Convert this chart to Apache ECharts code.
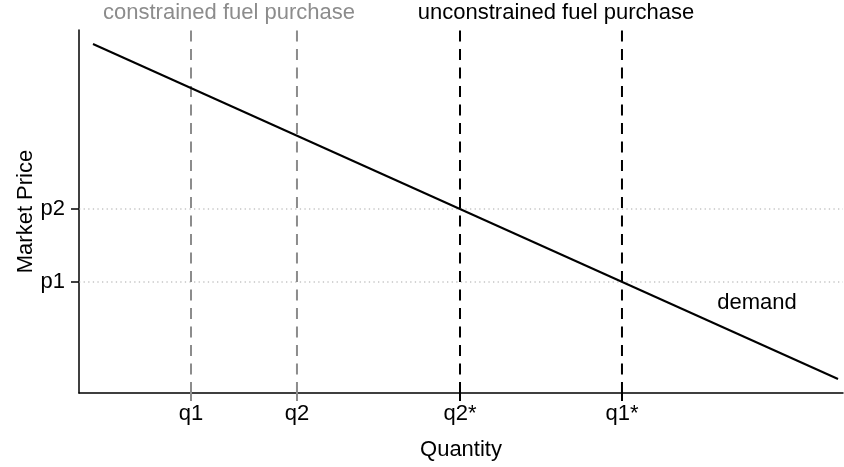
<!DOCTYPE html>
<html>
<head>
<meta charset="utf-8">
<script src="https://cdn.jsdelivr.net/npm/echarts@6/dist/echarts.min.js"></script>
<style>html,body{margin:0;padding:0;background:#fff}#c{width:844px;height:467px}</style>
</head>
<body>
<div id="c"></div>
<script>
// Data (abstract units 0..100)
const qNames = ['q1', 'q2', 'q2*', 'q1*'];
const qValues = [14.66, 28.53, 49.87, 71.07];
const qColors = ['#8c8c8c', '#8c8c8c', '#000000', '#000000'];
const pNames = ['p1', 'p2'];
const pValues = [30.58, 50.69];
const demandX = [1.83, 99.35];
const demandY = [96.14, 3.86];
const xMin = 0, xMax = 100, yMin = 0, yMax = 100;

// layout
const G = {left: 79, right: 1, top: 30, bottom: 74};
const tickLen = 8;
const plotW = 844 - G.left - G.right, plotH = 467 - G.top - G.bottom;
// extended ranges for helper grids that reach tickLen beyond the axes
const yTickMin = yMin - tickLen / plotH * (yMax - yMin);
const xTickMin = xMin - tickLen / plotW * (xMax - xMin);

const font = 'Liberation Sans, Arial, Helvetica, sans-serif';
const chart = echarts.init(document.getElementById('c'), null, {renderer: 'canvas'});

const series = [];
// dotted horizontal reference lines
pValues.forEach(function (p) {
  series.push({
    type: 'line', silent: true, symbol: 'none', animation: false,
    data: [[xMin, p], [xMax, p]],
    lineStyle: {color: '#a8a8a8', width: 1.2, type: [1.3, 3.3]}
  });
});
// vertical dashed lines
qValues.forEach(function (q, i) {
  series.push({
    type: 'line', silent: true, symbol: 'none', animation: false,
    data: [[q, yMin], [q, yMax]],
    lineStyle: {color: qColors[i], width: 2, type: [11, 7.5]}
  });
  // tick below x axis (helper grid 1)
  series.push({
    type: 'line', silent: true, symbol: 'none', animation: false,
    xAxisIndex: 1, yAxisIndex: 1,
    data: [[q, yTickMin], [q, yMin]],
    lineStyle: {color: qColors[i], width: 2}
  });
});
// ticks left of y axis (helper grid 2)
pValues.forEach(function (p) {
  series.push({
    type: 'line', silent: true, symbol: 'none', animation: false,
    xAxisIndex: 2, yAxisIndex: 2,
    data: [[xTickMin, p], [xMin, p]],
    lineStyle: {color: '#000', width: 1.5}
  });
});
// demand line
series.push({
  type: 'line', silent: true, symbol: 'none', animation: false,
  data: demandX.map(function (x, i) { return [x, demandY[i]]; }),
  lineStyle: {color: '#000', width: 2}
});

const hiddenAxis = function (min, max, grid) {
  return {type: 'value', gridIndex: grid, min: min, max: max, show: false};
};

chart.setOption({
  animation: false,
  backgroundColor: '#fff',
  grid: [
    {left: G.left, right: G.right, top: G.top, bottom: G.bottom},
    {left: G.left, right: G.right, top: G.top, bottom: G.bottom - tickLen},
    {left: G.left - tickLen, right: G.right, top: G.top, bottom: G.bottom}
  ],
  xAxis: [{
    type: 'value', min: xMin, max: xMax, gridIndex: 0,
    name: 'Quantity', nameLocation: 'middle', nameGap: 46, nameMoveOverlap: false,
    nameTextStyle: {fontFamily: font, fontSize: 22, color: '#000'},
    axisLine: {show: true, lineStyle: {color: '#000', width: 1.5}},
    axisTick: {show: false},
    splitLine: {show: false},
    axisLabel: {
      customValues: qValues, margin: 10,
      fontFamily: font, fontSize: 22, color: '#000',
      formatter: function (v) { const i = qValues.indexOf(v); return i >= 0 ? qNames[i] : ''; }
    }
  }, hiddenAxis(xMin, xMax, 1), hiddenAxis(xTickMin, xMax, 2)],
  yAxis: [{
    type: 'value', min: yMin, max: yMax, gridIndex: 0,
    name: 'Market Price', nameLocation: 'middle', nameGap: 42, nameRotate: 90, nameMoveOverlap: false,
    nameTextStyle: {fontFamily: font, fontSize: 22, color: '#000'},
    axisLine: {show: true, lineStyle: {color: '#000', width: 1.5}},
    axisTick: {show: false},
    splitLine: {show: false},
    axisLabel: {
      customValues: pValues, margin: 14,
      fontFamily: font, fontSize: 22, color: '#000',
      formatter: function (v) { const i = pValues.indexOf(v); return i >= 0 ? pNames[i] : ''; }
    }
  }, hiddenAxis(yTickMin, yMax, 1), hiddenAxis(yMin, yMax, 2)],
  graphic: [
    {type: 'text', x: 229, y: 13, style: {text: 'constrained fuel purchase', fill: '#8c8c8c', font: '22px ' + font, textAlign: 'center', textVerticalAlign: 'middle'}},
    {type: 'text', x: 556, y: 13, style: {text: 'unconstrained fuel purchase', fill: '#000', font: '22px ' + font, textAlign: 'center', textVerticalAlign: 'middle'}},
    {type: 'text', x: 757, y: 303, style: {text: 'demand', fill: '#000', font: '22px ' + font, textAlign: 'center', textVerticalAlign: 'middle'}}
  ],
  series: series
});
</script>
</body>
</html>
